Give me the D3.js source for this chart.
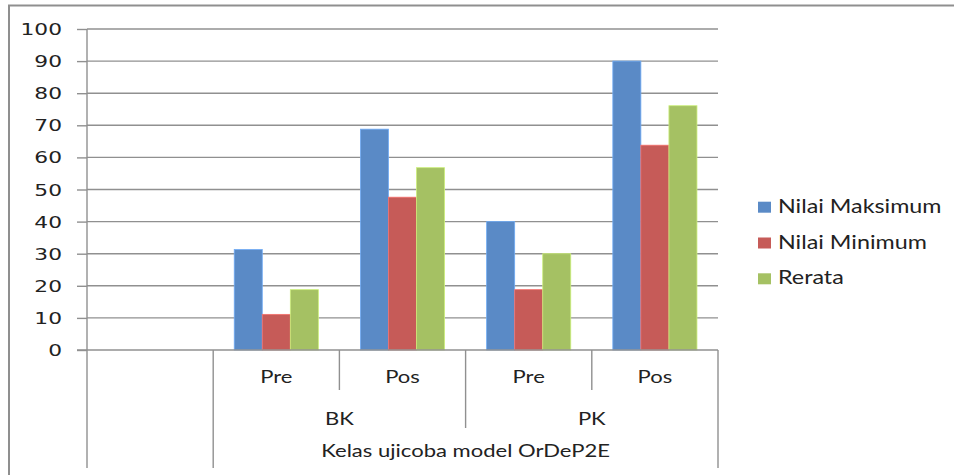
<!DOCTYPE html>
<html>
<head>
<meta charset="utf-8">
<script src="https://cdn.jsdelivr.net/npm/d3@7"></script>
<style>
  html, body { margin: 0; padding: 0; background: #ffffff; }
  svg { display: block; }
</style>
</head>
<body>
<svg id="chart" width="954" height="475"></svg>
<script>
// ---- data ----
const categories = ["", "Pre", "Pos", "Pre", "Pos"];
const groups = ["BK", "PK"];
const axisTitle = "Kelas ujicoba model OrDeP2E";
const seriesNames = ["Nilai Maksimum", "Nilai Minimum", "Rerata"];
const maxValues = [null, 31.3, 68.8, 40, 90];
const minValues = [null, 11.1, 47.6, 18.8, 63.8];
const meanValues = [null, 18.8, 56.8, 30, 76.1];
const yTicks = [0, 10, 20, 30, 40, 50, 60, 70, 80, 90, 100];
const seriesColors = ["#5a8ac6", "#c65b58", "#a5c163"];

// ---- layout ----
const W = 954, H = 475;
const plot = { left: 87, right: 718, top: 29, bottom: 350 };
const svg = d3.select("#chart");
const LABEL_FONT = "Lato, 'Open Sans', sans-serif";
const TICK_FONT = "'DejaVu Sans', Verdana, sans-serif";
const SX = 1.26;     // horizontal stretch of the original picture's text
const TICK_SX = 1.45;

svg.append("rect").attr("width", W).attr("height", H).attr("fill", "#fff");
// outer chart border (right / bottom edges run off the picture)
svg.append("rect")
  .attr("x", 9).attr("y", 5.5).attr("width", 1000).attr("height", 600)
  .attr("fill", "none").attr("stroke", "#8f8f8f").attr("stroke-width", 2);

const x = d3.scaleBand().domain(d3.range(categories.length))
  .range([plot.left, plot.right]).paddingInner(0).paddingOuter(0);
const gapWidth = 1.5;
const barW = x.bandwidth() / (seriesNames.length + gapWidth);
const xs = d3.scaleBand().domain(d3.range(seriesNames.length))
  .range([barW * gapWidth / 2, barW * gapWidth / 2 + barW * seriesNames.length]);
const y = d3.scaleLinear().domain([0, 100]).range([plot.bottom, plot.top]);

// gridlines
svg.append("g").selectAll("line").data(yTicks.filter(t => t > 0)).join("line")
  .attr("x1", plot.left).attr("x2", plot.right)
  .attr("y1", d => y(d)).attr("y2", d => y(d))
  .attr("stroke", "#909090").attr("stroke-width", 1.4);

// y axis
const yAxis = d3.axisLeft(y).tickValues(yTicks).tickSize(10).tickPadding(0).tickFormat(d3.format("d"));
const ya = svg.append("g").attr("transform", `translate(${plot.left},0)`).call(yAxis);
ya.select(".domain").attr("stroke", "#909090").attr("stroke-width", 1.4).attr("d", `M0,${plot.top}V${plot.bottom}`);
ya.selectAll(".tick line").attr("stroke", "#909090").attr("stroke-width", 1.4);
ya.selectAll(".tick text").remove();
ya.selectAll(".tick").append("text")
  .attr("transform", `translate(-25,5.5) scale(${TICK_SX},1)`)
  .attr("text-anchor", "end").attr("fill", "#222")
  .style("font-family", TICK_FONT).style("font-size", "15px")
  .text(d => d);

// bars
const seriesValues = [maxValues, minValues, meanValues];
seriesValues.forEach((vals, si) => {
  svg.append("g").selectAll("rect").data(vals.map((v, i) => ({ v, i })).filter(d => d.v != null))
    .join("rect")
    .attr("x", d => x(d.i) + xs(si))
    .attr("width", xs.bandwidth())
    .attr("y", d => y(d.v))
    .attr("height", d => y(0) - y(d.v))
    .attr("fill", seriesColors[si])
    .attr("stroke", d3.color(seriesColors[si]).brighter(0.6))
    .attr("stroke-width", 0.8);
});

// x axis baseline
svg.append("line").attr("x1", plot.left - 10).attr("x2", plot.right)
  .attr("y1", plot.bottom).attr("y2", plot.bottom)
  .attr("stroke", "#909090").attr("stroke-width", 1.4);

// category divider lines (multi-level axis)
const bounds = d3.range(categories.length + 1).map(i => i < categories.length ? x(i) : x(categories.length - 1) + x.bandwidth());
const lineEnd = [468, 468, 390, 428, 390, 468];
svg.append("g").selectAll("line").data(bounds).join("line")
  .attr("x1", d => d).attr("x2", d => d)
  .attr("y1", plot.bottom).attr("y2", (d, i) => lineEnd[i])
  .attr("stroke", "#909090").attr("stroke-width", 1.4);

function stretchedText(g, tx, ty, txt, size, anchor) {
  return g.append("text")
    .attr("transform", `translate(${tx},${ty}) scale(${SX},1)`)
    .attr("text-anchor", anchor || "middle")
    .attr("fill", "#222")
    .style("font-family", LABEL_FONT).style("font-size", size + "px")
    .text(txt);
}

const labels = svg.append("g");
categories.forEach((c, i) => {
  if (c) stretchedText(labels, x(i) + x.bandwidth() / 2, 383, c, 17.5);
});
groups.forEach((g, gi) => {
  const cx = x(1 + gi * 2) + x.bandwidth();
  stretchedText(labels, cx, 425, g, 17.5);
});
stretchedText(labels, (x(1) + plot.right) / 2, 457, axisTitle, 17.5);

// legend
const legend = svg.append("g");
seriesNames.forEach((s, i) => {
  const by = 212.7 + i * 35.8;
  legend.append("rect").attr("x", 758).attr("y", by - 11).attr("width", 13).attr("height", 11)
    .attr("fill", seriesColors[i]);
  stretchedText(legend, 778, by, s, 18.5, "start");
});
</script>
</body>
</html>
